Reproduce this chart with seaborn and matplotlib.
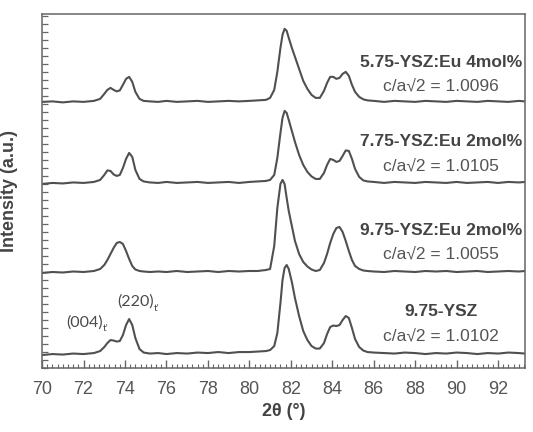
import pandas as pd
import matplotlib.pyplot as plt
import seaborn as sns
from matplotlib.ticker import MultipleLocator

# 2theta grid (deg)
two_theta = [70.0, 70.5, 71.0, 71.5, 72.0, 72.5, 72.8, 73.0, 73.15, 73.3, 73.45, 73.6, 73.75, 73.9,
             74.05, 74.2, 74.35, 74.5, 74.7, 74.9, 75.2, 75.6, 76.0, 76.5, 77.0, 77.5, 78.0, 78.5,
             79.0, 79.5, 80.0, 80.4, 80.8, 81.0, 81.2, 81.35, 81.5, 81.6, 81.7, 81.8, 81.9, 82.05,
             82.2, 82.4, 82.6, 82.8, 83.0, 83.2, 83.4, 83.6, 83.75, 83.9, 84.05, 84.2, 84.35, 84.5,
             84.65, 84.8, 84.95, 85.1, 85.3, 85.5, 85.7, 86.0, 86.5, 87.0, 87.5, 88.0, 88.5, 89.0,
             89.5, 90.0, 90.5, 91.0, 91.5, 92.0, 92.5, 93.0, 93.3]

# stacked intensities (offset already included)
ysz_975 = [13, 14, 13.5, 14.5, 14, 15, 17, 21, 25, 28, 27.5, 26.5, 27, 33,
           43, 49, 43, 30, 19, 15.5, 14.5, 15, 14, 15, 14.5, 15.5, 15, 16,
           15, 16, 16, 16.5, 17, 18, 22, 35, 65, 88, 100, 103, 99, 86,
           70, 52, 37, 28, 22, 19.5, 19.5, 25, 34, 41, 42.5, 42, 43, 48,
           52, 50, 40, 29, 21, 17.5, 16, 15.5, 15, 14.5, 15.5, 15, 14, 15,
           14.5, 15.5, 15, 14, 15, 14.5, 15.5, 15, 14.5]
eu2_975 = [95, 96, 95.5, 96.5, 96, 97, 99, 103, 108, 114, 120, 125, 126, 124,
           117, 109, 102, 98.5, 97, 96.5, 96, 96.5, 96, 97, 96, 96.5, 97, 96,
           97, 96.5, 97, 97, 98, 99, 122, 160, 184, 188, 184, 170, 157, 142,
           127, 114, 106, 101.5, 98.5, 97, 98, 105, 114, 125, 134, 140, 141, 136,
           127, 117, 108, 102, 99, 97.5, 97, 96.5, 96, 97, 96.5, 96, 97, 96.5,
           97, 96, 96.5, 97, 96, 96.5, 97, 96.5, 97]
eu2_775 = [184, 185, 184.5, 185.5, 185, 186, 188, 193, 197.5, 197, 193.5, 192, 193, 200,
           209, 215, 211, 198, 189, 186.5, 185.5, 185, 186, 185, 185.5, 186, 185, 185.5,
           186, 185, 186, 186.5, 187, 188, 193, 210, 235, 250, 257, 255, 248, 237,
           226, 213, 203, 196, 191.5, 189, 189, 195, 203, 209, 208, 206, 207, 212,
           217.5, 217, 209, 199, 191, 187.5, 186.5, 186, 185, 186, 185.5, 185, 186, 185.5,
           185, 186, 185, 185.5, 186, 185, 186, 185.5, 186]
eu4_575 = [266, 266.5, 265.5, 266.5, 266, 267, 269, 274, 278, 280, 278, 276.5, 277.5, 283,
           289, 291, 286, 276, 269, 267, 266.5, 266, 267, 266, 266.5, 267, 266, 266.5,
           267, 266.5, 267, 267.5, 268, 270, 278, 296, 320, 333, 339, 337, 330, 320,
           311, 299, 287, 279, 273, 270, 270, 277, 285, 291, 291, 289, 290, 294,
           296, 292, 283, 276, 271, 268.5, 267.5, 267, 266, 267, 266.5, 266, 267, 266.5,
           266, 267, 266.5, 266, 267, 266.5, 266, 267, 266.5]

samples = ["9.75-YSZ", "9.75-YSZ:Eu 2mol%", "7.75-YSZ:Eu 2mol%", "5.75-YSZ:Eu 4mol%"]
ratios = ["1.0102", "1.0055", "1.0105", "1.0096"]
name_y = [57, 137, 226, 305]
ratio_y = [32, 114, 202, 282]

rows = []
for name, ys in zip(samples, [ysz_975, eu2_975, eu2_775, eu4_575]):
    for x, y in zip(two_theta, ys):
        rows.append({"angle": x, "intensity": y, "sample": name})
df = pd.DataFrame(rows)

sns.set_style("ticks")
plt.rcParams['font.family'] = ['Liberation Sans', 'DejaVu Sans']

fig = plt.figure(figsize=(5.33, 4.32), dpi=100)
ax = fig.add_axes([0.079, 0.148, 0.906, 0.820])

sns.lineplot(data=df, x="angle", y="intensity", hue="sample", units="sample",
             estimator=None, sort=False, palette=["#505050"] * 4, legend=False,
             linewidth=1.5, ax=ax)

ax.set_xlim(70, 93.3)
ax.set_ylim(0, 354)
ax.xaxis.set_major_locator(MultipleLocator(2))
ax.xaxis.set_minor_locator(MultipleLocator(0.25))
ax.yaxis.set_major_locator(MultipleLocator(8))
ax.tick_params(axis='x', which='major', direction='in', length=6, width=1,
               color='#666666', labelsize=13, labelcolor='#555555', pad=9)
ax.tick_params(axis='x', which='minor', direction='in', length=3, width=0.8,
               color='#666666')
ax.tick_params(axis='y', which='major', direction='in', length=4, width=0.9,
               color='#666666')
ax.set_yticklabels([])
for s in ax.spines.values():
    s.set_color('#666666')
    s.set_linewidth(1.1)

ax.set_xlabel("2θ (°)", fontsize=13, fontweight='bold', color='#444444', labelpad=4)
ax.set_ylabel("Intensity (a.u.)", fontsize=13, fontweight='bold', color='#444444', labelpad=14)

for name, r, y1, y2 in zip(samples, ratios, name_y, ratio_y):
    ax.text(89.25, y1, name, ha='center', va='center', fontsize=12.5,
            fontweight='bold', color='#444444')
    ax.text(89.25, y2, "c/a√2 = " + r, ha='center', va='center', fontsize=12.5,
            color='#555555')

# peak labels
for lab, x, y in [("(004)", 72.05, 45.5), ("(220)", 74.5, 66)]:
    t = ax.text(x, y, lab, ha='center', va='center', fontsize=11.5,
                family='Lato', color='#4a4a4a')
    ax.annotate("t'", xy=(1.0, 0.05), xycoords=t, ha='left', va='center',
                fontsize=7.5, family='Lato', color='#4a4a4a')

fig.savefig("out.png", dpi=100)
